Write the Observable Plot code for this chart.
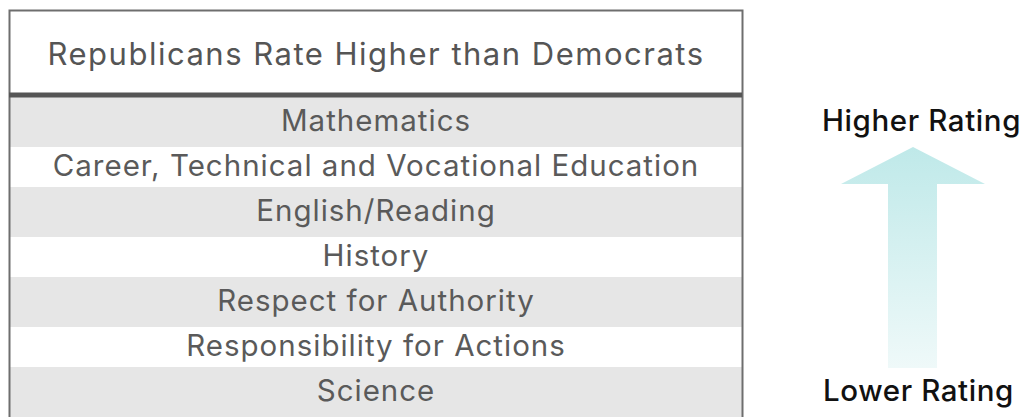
<!DOCTYPE html>
<html><head><meta charset="utf-8">
<script src="https://cdn.jsdelivr.net/npm/d3@7"></script>
<script src="https://cdn.jsdelivr.net/npm/@observablehq/plot@0.6"></script>
<style>body{margin:0;background:#fff;} svg{display:block;}</style>
</head><body><div id="chart"></div>
<script>
const title = "Republicans Rate Higher than Democrats";
const categories = [
  "Mathematics",
  "Career, Technical and Vocational Education",
  "English/Reading",
  "History",
  "Respect for Authority",
  "Responsibility for Actions",
  "Science"
];
const scaleLabels = ["Higher Rating", "Lower Rating"];

const W = 1022, H = 417;
const TL = 9, TR = 742, TC = (TL + TR) / 2;
const FONT = "Inter, 'Open Sans', sans-serif";

const rows = categories.map((c, i) => ({label: c, shaded: i % 2 === 0}));
const sideLabels = [
  {text: scaleLabels[0], y: categories[0], x: 921},
  {text: scaleLabels[1], y: categories[categories.length - 1], x: 918}
];

const chart = Plot.plot({
  width: W, height: H,
  margin: 0,
  style: {fontFamily: FONT, background: "#fff"},
  x: {type: "linear", domain: [0, W], range: [0, W], axis: null},
  y: {type: "band", domain: categories, range: [97.3, 415.8], padding: 0, axis: null},
  marks: [
    Plot.rect(rows.filter(d => d.shaded), {x1: TL, x2: TR, y: "label", fill: "#e6e6e6", insetTop: -2, insetBottom: -3}),
    Plot.text(rows, {x: TC, y: "label", text: "label", fontSize: 29.5, fill: "#5a5a5a", lineAnchor: "middle"}),
    Plot.text([title], {x: TC, frameAnchor: "top", dy: 55, text: d => d, fontSize: 31, fill: "#555", lineAnchor: "middle"}),
    Plot.text(sideLabels, {x: "x", y: "y", text: "text", fontSize: 29.5, fontWeight: 500, fill: "#111", lineAnchor: "middle"}),
    Plot.frame({stroke: "#6e6e6e", strokeWidth: 2, insetLeft: TL, insetTop: 10, insetRight: W - TR, insetBottom: -10})
  ]
});

const y = chart.scale("y");
const svg = d3.select(chart);
const textGroups = svg.selectAll("g[aria-label='text']").nodes();
const spacings = [1, 1.5, 0.6];
textGroups.forEach((n, i) => d3.select(n).attr("letter-spacing", spacings[i]));

const defs = svg.append("defs");
const g = defs.append("linearGradient").attr("id", "arrowGrad").attr("x1", 0).attr("y1", 0).attr("x2", 0).attr("y2", 1);
g.append("stop").attr("offset", "0%").attr("stop-color", "#bfe9e9");
g.append("stop").attr("offset", "100%").attr("stop-color", "#eff9f9");

// header separator
const sepY = y.apply(categories[0]) - 4;
svg.append("line").attr("x1", TL).attr("x2", TR).attr("y1", sepY).attr("y2", sepY)
  .attr("stroke", "#555").attr("stroke-width", 5);

// rating arrow
const ax = 913;
const apex = y.apply(categories[1]) + 3;
const base = y.apply(categories[2]) - 5;
const bottom = y.apply(categories[6]) - 1;
const pts = [[ax, apex], [ax - 72, base], [ax - 25, base], [ax - 25, bottom], [ax + 24, bottom], [ax + 24, base], [ax + 72, base]];
svg.append("polygon").attr("points", pts.map(p => p.join(",")).join(" ")).attr("fill", "url(#arrowGrad)");

document.getElementById("chart").appendChild(chart);
</script>
</body></html>
